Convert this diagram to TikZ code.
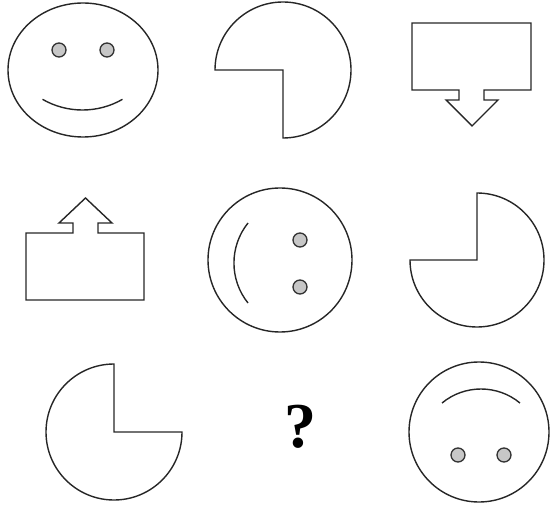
\documentclass[tikz,border=0pt]{standalone}
\usepackage{fontspec}
\setmainfont{Liberation Serif}
\usetikzlibrary{positioning}

\tikzset{
    outline/.style={draw=black!85, line width=1.4pt, line join=miter},
    eye/.style={draw=black!80, fill=black!22, line width=1.3pt},
    mouth/.style={draw=black!85, line width=1.4pt}
}

\begin{document}
\begin{tikzpicture}[x=1pt, y=1pt]
    \useasboundingbox (0,0) rectangle (553,506);

    % Fila 1: cara, sector, rectángulo con flecha abajo
    \draw[outline] (83,436) ellipse[x radius=75, y radius=67];
    \draw[eye] (59,456) circle (7);
    \draw[eye] (107,456) circle (7);
    \draw[mouth] (42.5,406.7) arc[start angle=240, end angle=300, radius=80];

    \draw[outline] (283,436) -- (215,436) arc[start angle=180, end angle=-90, radius=68] -- cycle;

    \draw[outline] (412,483) -- (531,483) -- (531,416) -- (484,416) -- (484,406) -- (498,406)
        -- (472,380) -- (446,406) -- (459,406) -- (459,416) -- (412,416) -- cycle;

    % Fila 2: rectángulo con flecha arriba, cara girada, sector
    \draw[outline] (26,273) -- (73,273) -- (73,283) -- (59,283) -- (85.5,308) -- (112,283)
        -- (98,283) -- (98,273) -- (144,273) -- (144,206) -- (26,206) -- cycle;

    \draw[outline] (280,246) circle (72);
    \draw[eye] (300,266) circle (7);
    \draw[eye] (300,219) circle (7);
    \draw[mouth] (248,283) arc[start angle=141.3, end angle=218.7, radius=64];

    \draw[outline] (477,246) -- (477,313) arc[start angle=90, end angle=-180, radius=67] -- cycle;

    % Fila 3: sector, incógnita, cara invertida
    \draw[outline] (114,74) -- (182,74) arc[start angle=0, end angle=-270, radius=68] -- cycle;

    \node[font=\fontsize{64}{64}\selectfont\bfseries, inner sep=0pt] (qmark) at (300,79) {?};

    \draw[outline] (479,74) circle (70);
    \draw[eye] (458,51) circle (7);
    \draw[eye] (504,51) circle (7);
    \draw[mouth] (442,103) arc[start angle=129.5, end angle=50.5, radius=61.3];
\end{tikzpicture}
\end{document}
